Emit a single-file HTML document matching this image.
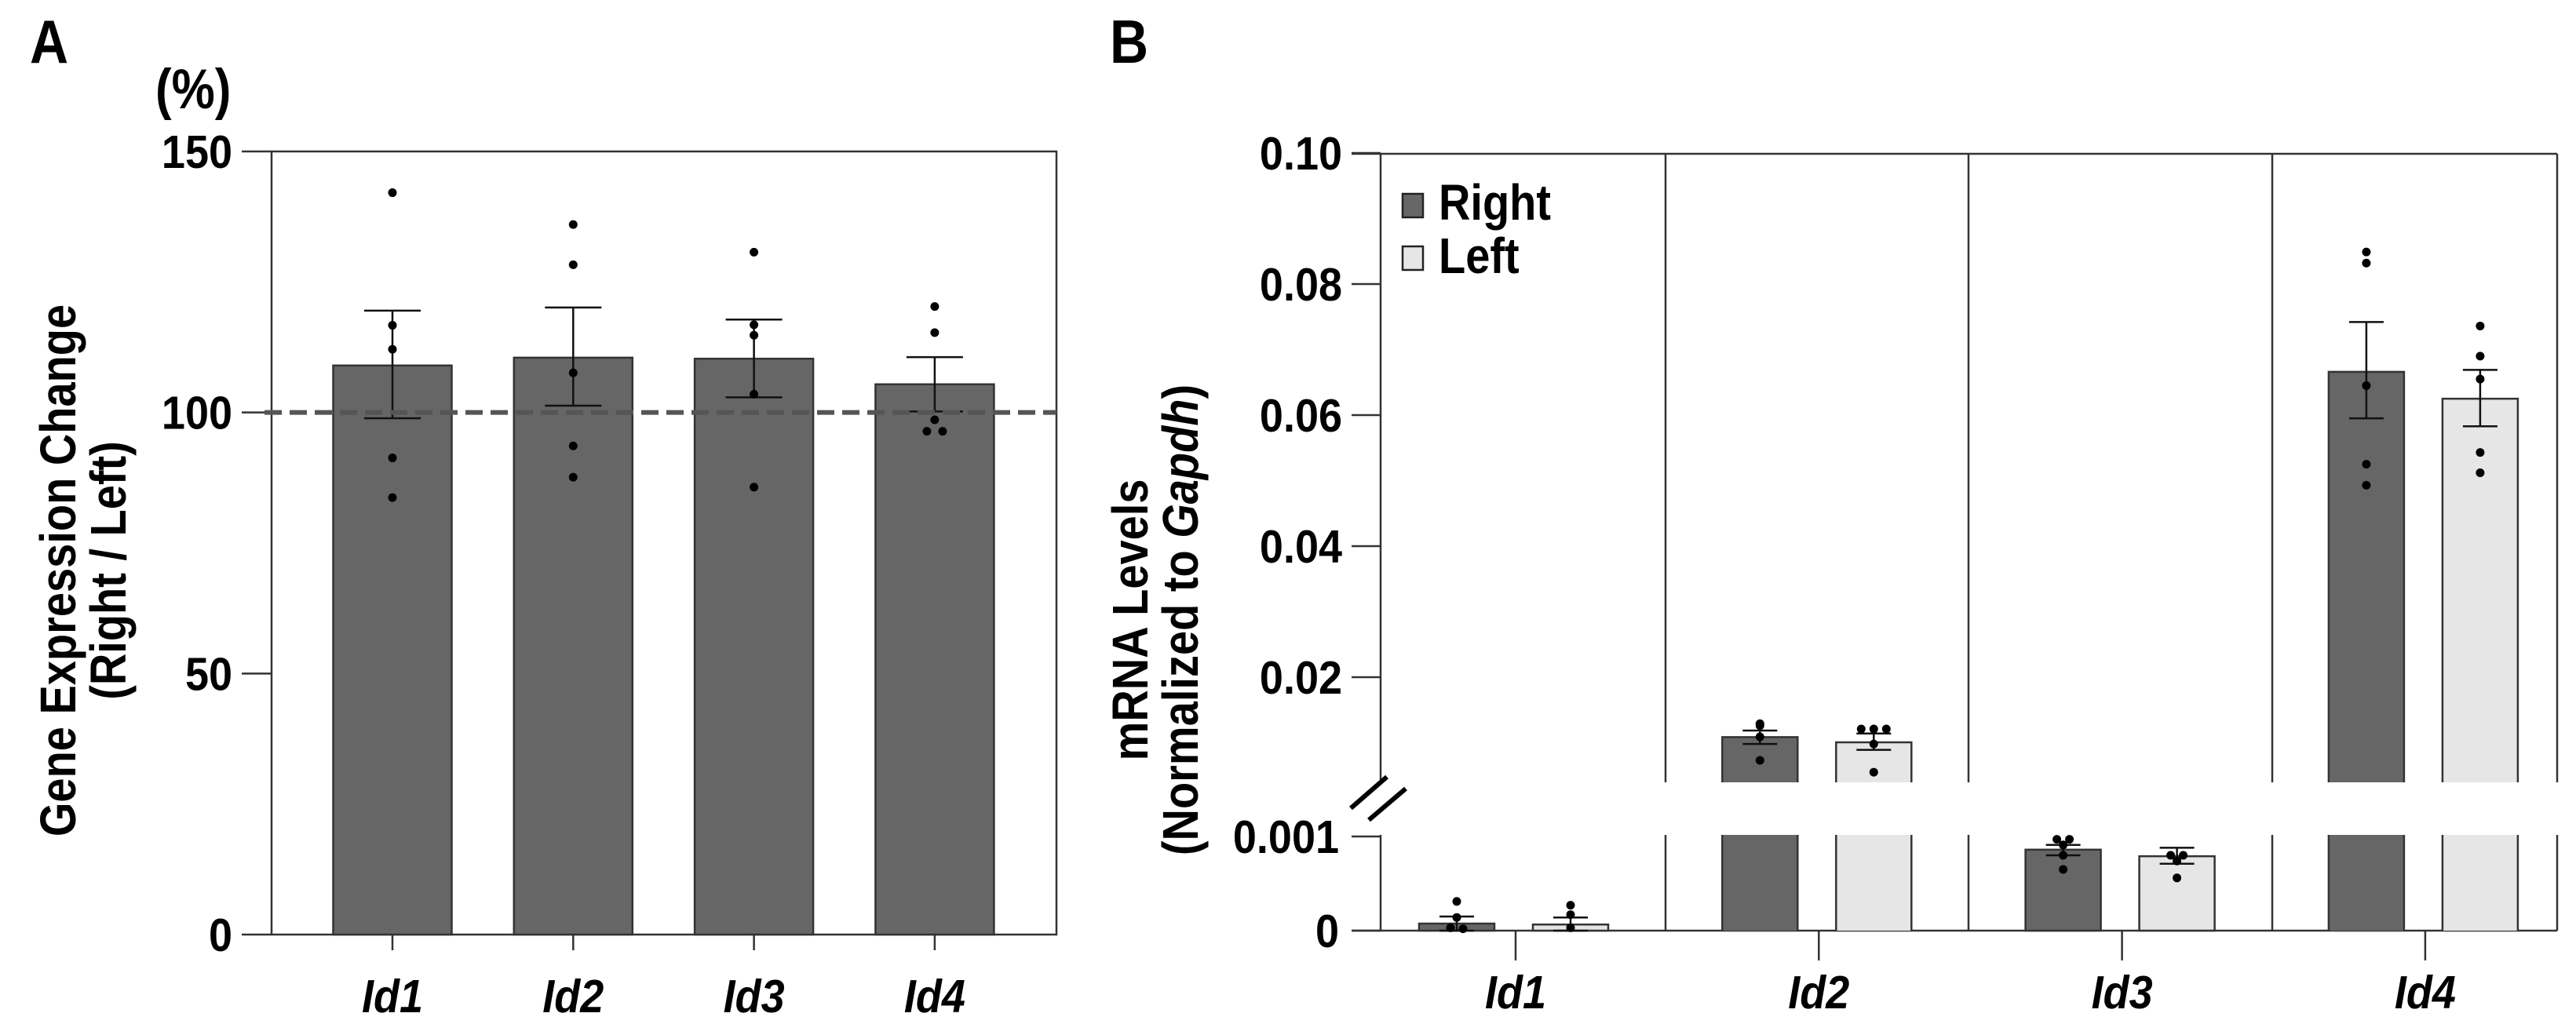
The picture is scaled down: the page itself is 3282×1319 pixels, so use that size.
<!DOCTYPE html>
<html><head><meta charset="utf-8"><style>
html,body{margin:0;padding:0;background:#fff}
svg{display:block;font-family:"Liberation Sans",Arial,sans-serif;font-weight:bold}
</style></head><body>
<svg id="chart" width="3282" height="1319" viewBox="0 0 3282 1319" xmlns="http://www.w3.org/2000/svg">
<g id="A"></g>
<g id="B"></g>
</svg>
<script>
// Panel A data
const catsA = ["Id1","Id2","Id3","Id4"];
const meanA = [109.0,110.5,110.3,105.4];
const errHiA = [119.5,120.1,117.8,110.6];
const errLoA = [98.9,101.3,102.9,100.2];
const dotsA = [[142.1,116.7,112.1,91.3,83.7],[136.0,128.3,107.6,93.6,87.6],[130.7,116.8,114.8,103.5,85.7],[120.3,115.3,98.6,96.4,96.4]];
const ticksA = [0,50,100,150];
// Panel B data
const catsB = ["Id1","Id2","Id3","Id4"];
const meanR = [0.000075,0.01085,0.00086,0.0666];
const errHiR = [0.00015,0.01186,0.00091,0.0742];
const errLoR = [0.00000,0.0098,0.0008,0.0595];
const meanL = [0.000065,0.01006,0.00079,0.0625];
const errHiL = [0.00014,0.0114,0.00088,0.0669];
const errLoL = [0.0,0.0089,0.00071,0.0583];
const dotsR = [[0.00031,0.00014,0.00003,0.00002],[0.0129,0.0126,0.0109,0.0073],[0.00097,0.00097,0.00091,0.0008,0.00065],[0.0849,0.0832,0.0645,0.0525,0.0493]];
const dotsL = [[0.00027,0.00017,0.00003],[0.0121,0.0121,0.0121,0.0098,0.0055],[0.0008,0.0008,0.00074,0.00056],[0.0736,0.069,0.0655,0.0543,0.0512]];
const ticksBUpper = [0.02,0.04,0.06,0.08,0.10];
const ticksBLower = [0,0.001];

const NS="http://www.w3.org/2000/svg";
function mk(parent,tag,attrs,text){const e=document.createElementNS(NS,tag);for(const k in attrs)e.setAttribute(k,attrs[k]);if(text!==undefined)e.textContent=text;parent.appendChild(e);return e;}
function T(parent,x,y,str,size,sy,anchor,rot,italic){
  const tr=`translate(${x},${y})`+(rot?` rotate(${rot})`:'')+` scale(1,${sy})`;
  const a={transform:tr,'font-size':size,'text-anchor':anchor||'start'};
  if(italic)a['font-style']='italic';
  return mk(parent,'text',a,str);
}

// ---- Panel A ----
const A=document.getElementById('A');
const aL=346,aR=1346,aT=193,aB=1191;
const yA=v=>aB-(v/150)*(aB-aT);
const xA=i=>500+i*230.3;
let t=T(A,38,80,'A',68,1.15);

t=T(A,198,138,'(%)',62,1.15);

let fr=mk(A,'rect',{x:aL,y:aT,width:aR-aL,height:aB-aT,fill:'none',stroke:'#333','stroke-width':2.5});

ticksA.forEach(v=>{
  let l=mk(A,'line',{x1:308,x2:aL,y1:yA(v),y2:yA(v),stroke:'#333','stroke-width':2.5});
  
  let tx=T(A,296,yA(v)+21,String(v),54,1.1,'end');
  
});
let ya=T(A,96,727,'Gene Expression Change',56,1.15,'middle',-90);

ya=T(A,160,727,'(Right / Left)',56,1.15,'middle',-90);

catsA.forEach((c,i)=>{
  const cx=xA(i),w=151;
  let b=mk(A,'rect',{x:cx-w/2,y:yA(meanA[i]),width:w,height:aB-yA(meanA[i]),fill:'#666',stroke:'#333','stroke-width':2.5});
  
  let e=mk(A,'path',{d:`M${cx},${yA(errHiA[i])}V${yA(errLoA[i])}M${cx-36},${yA(errHiA[i])}H${cx+36}M${cx-36},${yA(errLoA[i])}H${cx+36}`,stroke:'#111','stroke-width':2.5,fill:'none'});
  
  const n=dotsA[i].length;
  dotsA[i].forEach((v,j)=>{
    let dx=0; if(j>0&&Math.abs(dotsA[i][j-1]-v)<0.5)dx=10; if(j<n-1&&Math.abs(dotsA[i][j+1]-v)<0.5)dx=-10;
    let d=mk(A,'circle',{cx:cx+dx,cy:yA(v),r:5.5,fill:'#000'});
    
  });
  let tk=mk(A,'line',{x1:cx,x2:cx,y1:aB,y2:1211,stroke:'#333','stroke-width':2.5});
  
  let lb=T(A,cx,1290,c,54,1.1,'middle',0,true);
  
});
let dl=mk(A,'line',{x1:337,x2:aR,y1:yA(100),y2:yA(100),stroke:'#555','stroke-width':6,'stroke-dasharray':'22 10'});


// ---- Panel B ----
const B=document.getElementById('B');
const bL=1759,bR=3258,bT=196,uBot=997,lTop=1064,bB=1186;
const yU=v=>1030-v*8350;
const yLo=v=>bB-v*120000;
const yB=v=>v>0.0011?Math.max(yU(v),bT):yLo(v);
const xB=i=>1931+i*386.3;
t=T(B,1414,80,'B',68,1.15);

let yb=T(B,1462,790,'mRNA Levels',56,1.15,'middle',-90);

yb=T(B,1526,790,'',56,1.15,'middle',-90);

mk(yb,'tspan',{},'(Normalized to ');mk(yb,'tspan',{'font-style':'italic'},'Gapdh');mk(yb,'tspan',{},')');
const sepX=[bL,2122,2508,2895,bR];
sepX.forEach((x,k)=>{
  let l=mk(B,'path',{d:`M${x},${bT}V${uBot}M${x},${lTop}V${bB}`,stroke:'#333','stroke-width':2.5,fill:'none'});
  
});
let tl=mk(B,'line',{x1:1722,x2:bR,y1:bT,y2:bT,stroke:'#333','stroke-width':2.5});

let bl=mk(B,'line',{x1:1722,x2:bR,y1:bB,y2:bB,stroke:'#333','stroke-width':2.5});

ticksBUpper.forEach(v=>{
  let l=mk(B,'line',{x1:1722,x2:bL,y1:yU(v),y2:yU(v),stroke:'#333','stroke-width':2.5});
  
  let tx=T(B,1710,yU(v)+21,v.toFixed(2),54,1.1,'end');
  
});
ticksBLower.forEach(v=>{
  let l=mk(B,'line',{x1:1722,x2:bL,y1:yLo(v),y2:yLo(v),stroke:'#333','stroke-width':2.5});
  
  let tx=T(B,1706,yLo(v)+21,v===0?'0':String(v),54,1.1,'end');
  
});
let brk=mk(B,'path',{d:'M1721,1030L1767,990M1744,1045L1791,1005',stroke:'#000','stroke-width':6,fill:'none'});

function drawBar(cx,mean,hi,lo,dots,fill,name){
  const w=96,x0=cx-w/2,x1=cx+w/2;
  const top=yB(mean);
  if(mean>0.0011){
    let r1=mk(B,'rect',{x:x0,y:top,width:w,height:uBot-top,fill:fill});
    
    mk(B,'path',{d:`M${x0},${uBot}V${top}H${x1}V${uBot}`,stroke:'#333','stroke-width':2.5,fill:'none'});
    let r2=mk(B,'rect',{x:x0,y:lTop,width:w,height:bB-lTop,fill:fill});
    
    mk(B,'path',{d:`M${x0},${lTop}V${bB}M${x1},${lTop}V${bB}`,stroke:'#333','stroke-width':2.5,fill:'none'});
  } else {
    let r=mk(B,'rect',{x:x0,y:top,width:w,height:bB-top,fill:fill,stroke:'#333','stroke-width':2.5});
    
  }
  let e=mk(B,'path',{d:`M${cx},${yB(hi)}V${yB(lo)}M${cx-22},${yB(hi)}H${cx+22}M${cx-22},${yB(lo)}H${cx+22}`,stroke:'#111','stroke-width':2.5,fill:'none'});
  
  dots.forEach((v,j)=>{
    let same=dots.filter((u,k)=>k<j&&Math.abs(u-v)<Math.max(v*0.02,0.00001)).length;
    let tot=dots.filter(u=>Math.abs(u-v)<Math.max(v*0.02,0.00001)).length;
    let dx=(same-(tot-1)/2)*16;
    let d=mk(B,'circle',{cx:cx+dx,cy:yB(v),r:5.5,fill:'#000'});
    
  });
}
catsB.forEach((c,i)=>{
  const cx=xB(i);
  drawBar(cx-75,meanR[i],errHiR[i],errLoR[i],dotsR[i],'#666','bar-right-'+c.toLowerCase());
  drawBar(cx+70,meanL[i],errHiL[i],errLoL[i],dotsL[i],'#e6e6e6','bar-left-'+c.toLowerCase());
  let tk=mk(B,'line',{x1:cx,x2:cx,y1:bB,y2:1224,stroke:'#333','stroke-width':2.5});
  
  let lb=T(B,cx,1285,c,54,1.1,'middle',0,true);
  
});
let ls=mk(B,'rect',{x:1787,y:247,width:26,height:30,fill:'#666',stroke:'#222','stroke-width':2.5});

let lt=T(B,1833,280,'Right',56,1.15);

ls=mk(B,'rect',{x:1787,y:314,width:26,height:30,fill:'#e6e6e6',stroke:'#222','stroke-width':2.5});

lt=T(B,1833,348,'Left',56,1.15);

</script>
</body></html>
